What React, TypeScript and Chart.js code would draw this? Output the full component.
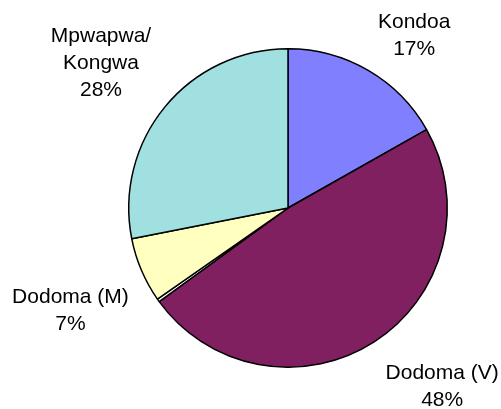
import React, { useEffect, useRef } from "react";
import { Chart, registerables } from "chart.js";

Chart.register(...registerables);

const categories = ["Kondoa", "Dodoma (V)", "", "Dodoma (M)", "Mpwapwa/\nKongwa"];
const values = [16.8, 48.2, 0.3, 6.6, 28.1];
const percentLabels = ["17%", "48%", "", "7%", "28%"];
const colors = ["#8080FF", "#802060", "#FFFFFF", "#FFFFC0", "#A0E0E0"];
// label offsets (dx, dy) from the outer midpoint of each slice
const labelOffsets = [
  [46, -35],
  [68, 45],
  [0, 0],
  [-71, 40],
  [-64, -44],
];

const labelPlugin = {
  id: "sliceLabels",
  afterDraw(chart: any) {
    const ctx = chart.ctx;
    const meta = chart.getDatasetMeta(0);
    ctx.save();
    ctx.font = '21px "Liberation Sans", Arial, sans-serif';
    ctx.fillStyle = "#000";
    ctx.textAlign = "center";
    ctx.textBaseline = "middle";
    meta.data.forEach((arc: any, i: number) => {
      if (!categories[i]) return;
      const { x, y, startAngle, endAngle, outerRadius } = arc.getProps(
        ["x", "y", "startAngle", "endAngle", "outerRadius"],
        true
      );
      const mid = (startAngle + endAngle) / 2;
      const px = x + Math.cos(mid) * outerRadius + labelOffsets[i][0];
      const py = y + Math.sin(mid) * outerRadius + labelOffsets[i][1];
      const lines = categories[i].split("\n").concat([percentLabels[i]]);
      const lh = 27;
      const top = py - ((lines.length - 1) * lh) / 2;
      lines.forEach((l, k) => ctx.fillText(l, px, top + k * lh));
    });
    ctx.restore();
  },
};

export default function App() {
  const ref = useRef<HTMLCanvasElement>(null);
  useEffect(() => {
    const chart = new Chart(ref.current!, {
      type: "pie",
      data: {
        labels: categories,
        datasets: [
          {
            data: values,
            backgroundColor: colors,
            borderColor: "#000",
            borderWidth: 1.5,
            hoverOffset: 0,
            offset: 0,
          },
        ],
      },
      options: {
        responsive: false,
        animation: false,
        layout: { padding: { left: 128, right: 53, top: 48, bottom: 41 } },
        plugins: {
          legend: { display: false },
          tooltip: { enabled: false },
        },
      },
      plugins: [labelPlugin],
    });
    return () => chart.destroy();
  }, []);
  return (
    <div style={{ position: "fixed", left: 0, top: 0, width: 501, height: 409, background: "#fff" }}>
      <canvas ref={ref} width={501} height={409} />
    </div>
  );
}
